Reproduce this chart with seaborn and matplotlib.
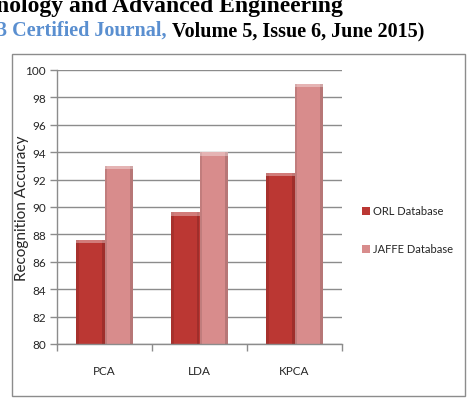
import numpy as np
import pandas as pd
import matplotlib
matplotlib.use("Agg")
import matplotlib.pyplot as plt
from matplotlib.patches import Rectangle
import seaborn as sns

# values
methods = ["PCA", "LDA", "KPCA"]
orl_acc = [87.6, 89.6, 92.5]
jaffe_acc = [93.0, 94.0, 99.0]
series_names = ["ORL Database", "JAFFE Database"]
y_ticks = list(range(80, 101, 2))

df = pd.DataFrame({
    "method": methods * 2,
    "accuracy": orl_acc + jaffe_acc,
    "database": [series_names[0]] * len(methods) + [series_names[1]] * len(methods),
})

sns.set_theme(style="white")
plt.rcParams["font.family"] = ["Lato", "DejaVu Sans"]

W, H = 472, 410
fig = plt.figure(figsize=(W / 100, H / 100), dpi=100)
fig.patch.set_facecolor("white")

# axes placed in pixel terms of the reference
left, right, top, bottom = 57, 342, 71, 345
ax = fig.add_axes([left / W, 1 - bottom / H, (right - left) / W, (bottom - top) / H])

palette = {series_names[0]: "#bb3733", series_names[1]: "#d88c8c"}
sns.barplot(data=df, x="method", y="accuracy", hue="database", palette=palette,
            width=0.59, saturation=1, ax=ax, legend=False,
            edgecolor="none")

# simple shading on bars: darker sides, light top cap
for bar in ax.patches:
    x0, w = bar.get_x(), bar.get_width()
    h = bar.get_height()
    ax.add_patch(Rectangle((x0, 80), w * 0.08, h - 80, color="black", alpha=0.10, lw=0, zorder=3))
    ax.add_patch(Rectangle((x0 + w * 0.92, 80), w * 0.08, h - 80, color="black", alpha=0.15, lw=0, zorder=3))
    ax.add_patch(Rectangle((x0, h - 0.25), w, 0.25, color="white", alpha=0.35, lw=0, zorder=3))

ax.set_ylim(80, 100)
ax.set_xlim(-0.5, 2.5)
ax.set_yticks(y_ticks)
ax.set_yticklabels([str(t) for t in y_ticks], fontsize=8.5)
ax.yaxis.grid(True, color="#8c8c8c", linewidth=1)
ax.set_axisbelow(True)

ax.set_xticks(range(len(methods)))
ax.set_xticklabels(methods, fontsize=8.5)
ax.tick_params(axis="x", which="major", length=0, pad=15)
ax.set_xticks([-0.5, 0.5, 1.5, 2.5], minor=True)
ax.tick_params(axis="x", which="minor", length=5, color="#8c8c8c", width=1, direction="out", bottom=True)
ax.tick_params(axis="y", length=5, color="#8c8c8c", width=1, direction="out", left=True, pad=3)

for s in ["top", "right"]:
    ax.spines[s].set_visible(False)
for s in ["left", "bottom"]:
    ax.spines[s].set_color("#8c8c8c")
    ax.spines[s].set_linewidth(1)

ax.set_xlabel("")
ax.set_ylabel("Recognition Accuracy", fontsize=11)
# ylabel anchor is its right edge when rotated
ax.yaxis.set_label_coords((29 - left) / (right - left), 0.5)

# legend at the right
for i, name in enumerate(series_names):
    yy = 1 - (212 + i * 38) / H
    fig.patches.append(Rectangle((362 / W, yy - 4 / H), 8 / W, 8 / H, transform=fig.transFigure,
                                 facecolor=palette[name], edgecolor="none"))
    fig.text(373 / W, yy, name, fontsize=8, va="center", ha="left")

# chart border
fig.patches.append(Rectangle((12 / W, 1 - 397 / H), (465 - 12) / W, (397 - 55) / H,
                             transform=fig.transFigure, fill=False, edgecolor="#8c8c8c", lw=1))

# header text from the page
serif = ["Liberation Serif", "DejaVu Serif"]
fig.text(-4 / W, 1 - 12 / H, "nology and Advanced Engineering", fontsize=17, fontweight="bold",
         family=serif, va="baseline", ha="left", color="black")
t1 = fig.text(-3 / W, 1 - 36 / H, "3 Certified Journal, ", fontsize=14.5, fontweight="bold",
              family=serif, va="baseline", ha="left", color="#5a8fd0")
fig.canvas.draw()
bb = t1.get_window_extent()
fig.text(bb.x1 / W, 1 - 36 / H, "Volume 5, Issue 6, June 2015)", fontsize=14.5, fontweight="bold",
         family=serif, va="baseline", ha="left", color="black")

fig.savefig("out.png", dpi=100)
